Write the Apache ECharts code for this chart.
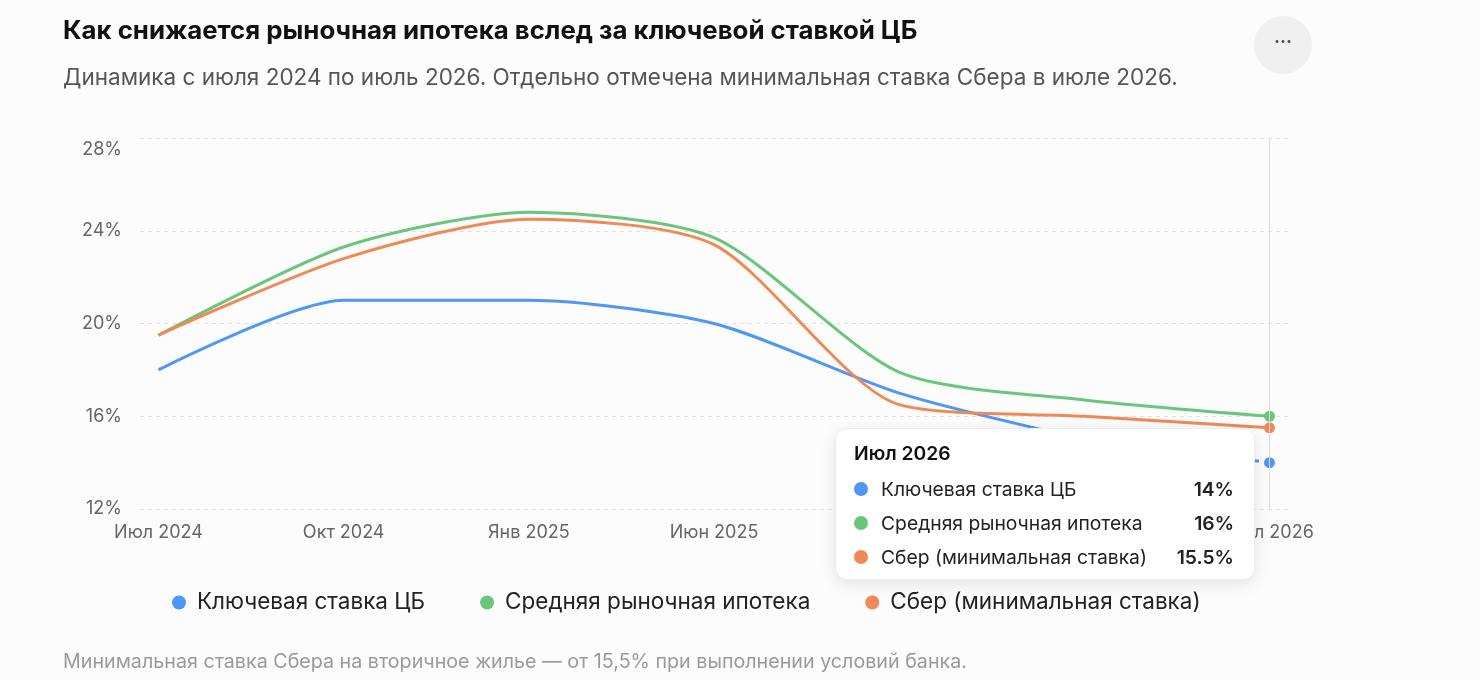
<!DOCTYPE html>
<html>
<head>
<meta charset="utf-8">
<script src="https://cdn.jsdelivr.net/npm/echarts@6/dist/echarts.min.js"></script>
<style>
  html, body { margin: 0; padding: 0; background: #fcfcfc; }
  #ChartDIV { width: 1480px; height: 680px; }
</style>
</head>
<body>
<div id="ChartDIV"></div>
<script>
// -- данные графика
var months = ['Июл 2024', 'Окт 2024', 'Янв 2025', 'Июн 2025', 'Окт 2025', 'Янв 2026', 'Июл 2026'];
var keyRate = [18, 21, 21, 20, 17, 15, 14];
var marketMortgage = [19.5, 23.3, 24.8, 23.7, 17.9, 16.7, 16];
var sberMin = [19.5, 22.8, 24.5, 23.4, 16.5, 16.0, 15.5];
var seriesNames = ['Ключевая ставка ЦБ', 'Средняя рыночная ипотека', 'Сбер (минимальная ставка)'];
var seriesColors = ['#4f97f7', '#6cc57d', '#ee8a55'];
var yTicks = [12, 16, 20, 24, 28];

var lastIdx = months.length - 1;
var fontName = "Inter, 'Noto Sans', sans-serif";

function pairs(arr, from, to) {
    var res = [];
    for (var i = from; i <= to; i++) {
        res.push([i, arr[i]]);
    }
    return res;
}

function lastDot(value, params) {
    return params.value[0] === lastIdx ? 10 : 0;
}

function fmtPct(v) {
    return v + '%';
}

var myChart = echarts.init(document.getElementById('ChartDIV'));

var lineBase = {
    type: 'line',
    smooth: 0.25,
    symbol: 'circle',
    symbolSize: lastDot,
    showSymbol: true,
    showAllSymbol: true,
    lineStyle: { width: 3 },
    emphasis: { disabled: true },
    z: 3
};

var option = {
    backgroundColor: '#fcfcfc',
    animation: false,
    textStyle: { fontFamily: fontName },
    title: [
        {
            text: 'Как снижается рыночная ипотека вслед за ключевой ставкой ЦБ',
            left: 63,
            top: 18,
            padding: 0,
            textStyle: { fontSize: 25.8, fontWeight: 700, color: '#111', fontFamily: fontName }
        },
        {
            text: 'Динамика с июля 2024 по июль 2026. Отдельно отмечена минимальная ставка Сбера в июле 2026.',
            left: 63,
            top: 67,
            padding: 0,
            textStyle: { fontSize: 22.5, fontWeight: 400, color: '#555', fontFamily: fontName }
        },
        {
            text: 'Минимальная ставка Сбера на вторичное жилье — от 15,5% при выполнении условий банка.',
            left: 63,
            top: 652,
            padding: 0,
            textStyle: { fontSize: 19.7, fontWeight: 400, color: '#9a9a9a', fontFamily: fontName }
        }
    ],
    graphic: [
        {
            type: 'circle',
            shape: { cx: 1283, cy: 45, r: 29 },
            style: { fill: '#f0f0f0' }
        },
        {
            type: 'text',
            x: 1283,
            y: 43,
            style: { text: '···', fill: '#555', font: 'bold 18px ' + fontName, align: 'center', verticalAlign: 'middle' }
        }
    ],
    grid: {
        left: 140,
        right: 192,
        top: 138,
        bottom: 171
    },
    tooltip: {
        trigger: 'axis',
        alwaysShowContent: true,
        triggerOn: 'none',
        position: function () {
            return [835, 428];
        },
        backgroundColor: '#ffffff',
        borderColor: '#ececec',
        borderWidth: 1,
        padding: 0,
        extraCssText: 'border-radius:12px;box-shadow:0 4px 16px rgba(0,0,0,0.10);width:420px;height:152px;box-sizing:border-box;',
        axisPointer: {
            type: 'line',
            lineStyle: { color: '#dcdcdc', width: 1, type: 'solid' }
        },
        formatter: function (params) {
            var idx = Math.round(params[0].value[0]);
            var vals = [keyRate[idx], marketMortgage[idx], sberMin[idx]];
            var html = '<div style="padding:12px 20px 6px 18px;">';
            html += '<div style="font:600 19.3px ' + fontName + ';color:#111;line-height:24px;margin-bottom:7px;">' + months[idx] + '</div>';
            for (var i = 0; i < seriesNames.length; i++) {
                html += '<div style="display:flex;align-items:center;justify-content:space-between;font:400 19.3px ' + fontName + ';color:#222;line-height:34px;height:34px;">' +
                    '<span style="display:flex;align-items:center;"><span style="display:inline-block;width:14px;height:14px;border-radius:7px;background:' + seriesColors[i] + ';margin-right:13px;"></span>' + seriesNames[i] + '</span>' +
                    '<span style="font-weight:600;">' + fmtPct(vals[i]) + '</span></div>';
            }
            html += '</div>';
            return html;
        }
    },
    legend: {
        data: seriesNames,
        left: 172,
        top: 591,
        padding: 0,
        icon: 'circle',
        itemWidth: 14,
        itemHeight: 14,
        itemGap: 55,
        textStyle: { fontSize: 22.5, color: '#222', fontFamily: fontName, padding: [0, 0, 0, 6] }
    },
    xAxis: {
        type: 'value',
        min: -0.1,
        max: 6.1,
        axisLine: { show: false },
        axisTick: { show: false },
        splitLine: { show: false },
        axisLabel: {
            customValues: [0, 1, 2, 3, 4, 5, 6],
            color: '#666',
            fontSize: 18,
            margin: 15,
            formatter: function (v) {
                return months[Math.round(v)];
            }
        }
    },
    yAxis: {
        type: 'value',
        min: yTicks[0],
        max: yTicks[yTicks.length - 1],
        interval: 4,
        axisLine: { show: false },
        axisTick: { show: false },
        axisLabel: {
            color: '#666',
            fontSize: 18,
            margin: 18,
            formatter: function (v) {
                // верхняя подпись сдвинута вниз, как в макете
                return v === yTicks[yTicks.length - 1] ? '{top|' + v + '%}' : v + '%';
            },
            rich: {
                top: { fontSize: 18, color: '#666', padding: [24, 0, 0, 0] }
            }
        },
        splitLine: {
            lineStyle: { color: '#e2e2e2', type: [4, 4], width: 1 }
        }
    },
    series: [
        Object.assign({}, lineBase, {
            name: seriesNames[0],
            color: seriesColors[0],
            data: pairs(keyRate, 0, lastIdx - 1)
        }),
        Object.assign({}, lineBase, {
            name: seriesNames[1],
            color: seriesColors[1],
            data: pairs(marketMortgage, 0, lastIdx)
        }),
        Object.assign({}, lineBase, {
            name: seriesNames[2],
            color: seriesColors[2],
            data: pairs(sberMin, 0, lastIdx)
        }),
        // -- прогнозный участок ключевой ставки пунктиром
        Object.assign({}, lineBase, {
            name: seriesNames[0] + ' (прогноз)',
            color: seriesColors[0],
            smooth: false,
            lineStyle: { width: 3, type: [8, 6] },
            data: pairs(keyRate, lastIdx - 1, lastIdx)
        })
    ]
};

myChart.setOption(option);

myChart.dispatchAction({
    type: 'showTip',
    seriesIndex: 1,
    dataIndex: lastIdx
});

//-- график адаптивный
window.addEventListener('resize', function () {
    myChart.resize();
});
</script>
</body>
</html>
